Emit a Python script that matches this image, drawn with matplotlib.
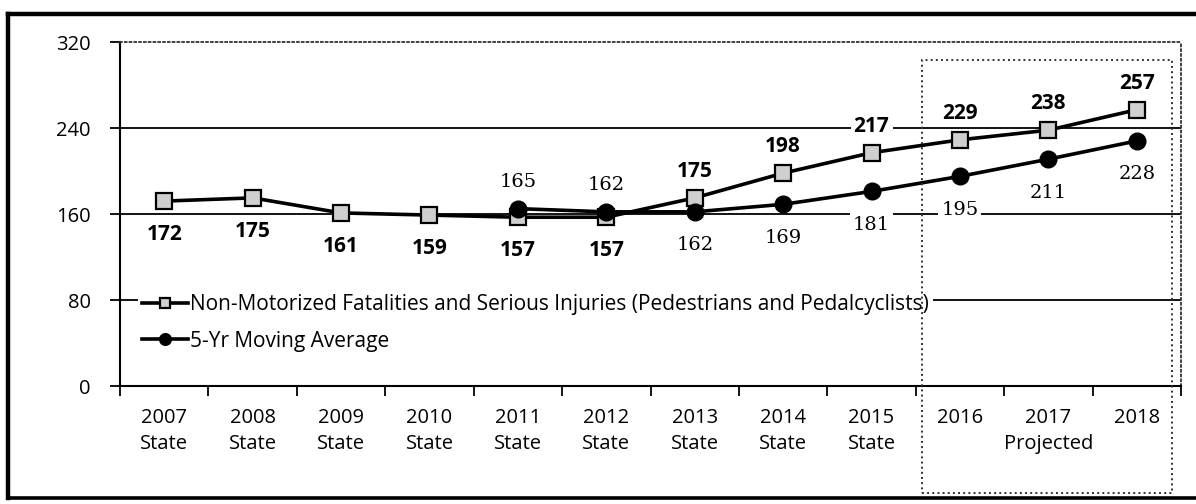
import numpy as np
import matplotlib
matplotlib.use('Agg')
import matplotlib.pyplot as plt
from matplotlib.lines import Line2D
from matplotlib.patches import Rectangle

plt.rcParams['font.family'] = ['Open Sans', 'DejaVu Sans']

# data
years = ['2007', '2008', '2009', '2010', '2011', '2012', '2013', '2014', '2015', '2016', '2017', '2018']
subtitles = ['State'] * 9 + ['', 'Projected', '']
fatalities = [172, 175, 161, 159, 157, 157, 175, 198, 217, 229, 238, 257]
moving_avg = [None, None, None, None, 165, 162, 162, 169, 181, 195, 211, 228]
fat_label = 'Non-Motorized Fatalities and Serious Injuries (Pedestrians and Pedalcyclists)'
avg_label = '5-Yr Moving Average'
yticks = [0, 80, 160, 240, 320]

# label placement (style, not data)
fat_pos = ['below'] * 6 + ['above'] * 6
avg_pos = [None] * 4 + ['above', 'above'] + ['below'] * 6

W, H = 1196, 504
fig = plt.figure(figsize=(W / 100, H / 100), dpi=100)

def fx(x):
    return x / W

def fy(y):
    return 1 - y / H

ax = fig.add_axes([fx(120), fy(386), fx(1181) - fx(120), fy(42) - fy(386)])
x = np.arange(len(years))
ax.set_xlim(-0.5, len(years) - 0.5)
ax.set_ylim(0, 320)

for v in [80, 160, 240]:
    ax.axhline(v, color='black', lw=1.3, zorder=1)

ax.plot(x, fatalities, color='black', lw=2.6, marker='s', ms=11,
        mfc='#cfcfcf', mec='black', mew=1.6, zorder=3, label=fat_label)
xa = [i for i, v in enumerate(moving_avg) if v is not None]
ya = [v for v in moving_avg if v is not None]
ax.plot(xa, ya, color='black', lw=2.6, marker='o', ms=12,
        mfc='black', mec='black', zorder=4, label=avg_label)

for i, v in enumerate(fatalities):
    off = 19 if fat_pos[i] == 'above' else -24
    ax.annotate(str(v), (i, v), xytext=(0, off), textcoords='offset points',
                ha='center', va='center', fontsize=15, fontweight='bold',
                bbox=dict(boxstyle='square,pad=0.15', fc='white', ec='none'), zorder=5)
for i, v in enumerate(moving_avg):
    if v is None:
        continue
    off = 19 if avg_pos[i] == 'above' else -24
    ax.annotate(str(v), (i, v), xytext=(0, off), textcoords='offset points',
                ha='center', va='center', fontsize=14, family='DejaVu Serif',
                bbox=dict(boxstyle='square,pad=0.15', fc='white', ec='none'), zorder=5)

# axes styling
ax.spines['left'].set_linewidth(1.5)
ax.spines['bottom'].set_linewidth(1.5)
for s in ['top', 'right']:
    ax.spines[s].set_linestyle(':')
    ax.spines[s].set_color('#333333')
    ax.spines[s].set_linewidth(1.3)
ax.set_yticks(yticks)
ax.set_yticklabels([str(t) for t in yticks], fontsize=14.5)
ax.tick_params(axis='y', length=7, width=1.3, pad=14)
ax.set_xticks(np.arange(len(years) + 1) - 0.5, minor=False)
ax.set_xticklabels([])
ax.tick_params(axis='x', length=7, width=1.3)
ax.set_xticks(x, minor=True)
ax.set_xticklabels([y + ('\n' + s if s else '') for y, s in zip(years, subtitles)],
                   minor=True, fontsize=14.5, linespacing=1.4)
ax.tick_params(axis='x', which='minor', length=0, pad=16)

leg = ax.legend(loc='upper left', bbox_to_anchor=(fx(138), fy(290)),
                bbox_transform=fig.transFigure, frameon=True, fancybox=False,
                facecolor='white', edgecolor='none', framealpha=1, fontsize=15,
                handlelength=2.2, handletextpad=0.1, labelspacing=0.75,
                borderpad=0.2, markerscale=0.7, borderaxespad=0)
leg.set_zorder(6)

# projected box
fig.add_artist(Rectangle((fx(922), fy(493)), fx(1172) - fx(922), fy(60) - fy(493),
                         transform=fig.transFigure, fill=False, ec='#333333',
                         lw=1.4, ls=':'))

# outer frame (right side runs off the image)
fig.add_artist(Line2D([fx(8), fx(1196)], [fy(14), fy(14)], color='black', lw=3.2))
fig.add_artist(Line2D([fx(8), fx(8)], [fy(14), fy(498)], color='black', lw=3.2))
fig.add_artist(Line2D([fx(8), fx(1196)], [fy(498), fy(498)], color='black', lw=2.6))

fig.savefig('out.png', dpi=100)
